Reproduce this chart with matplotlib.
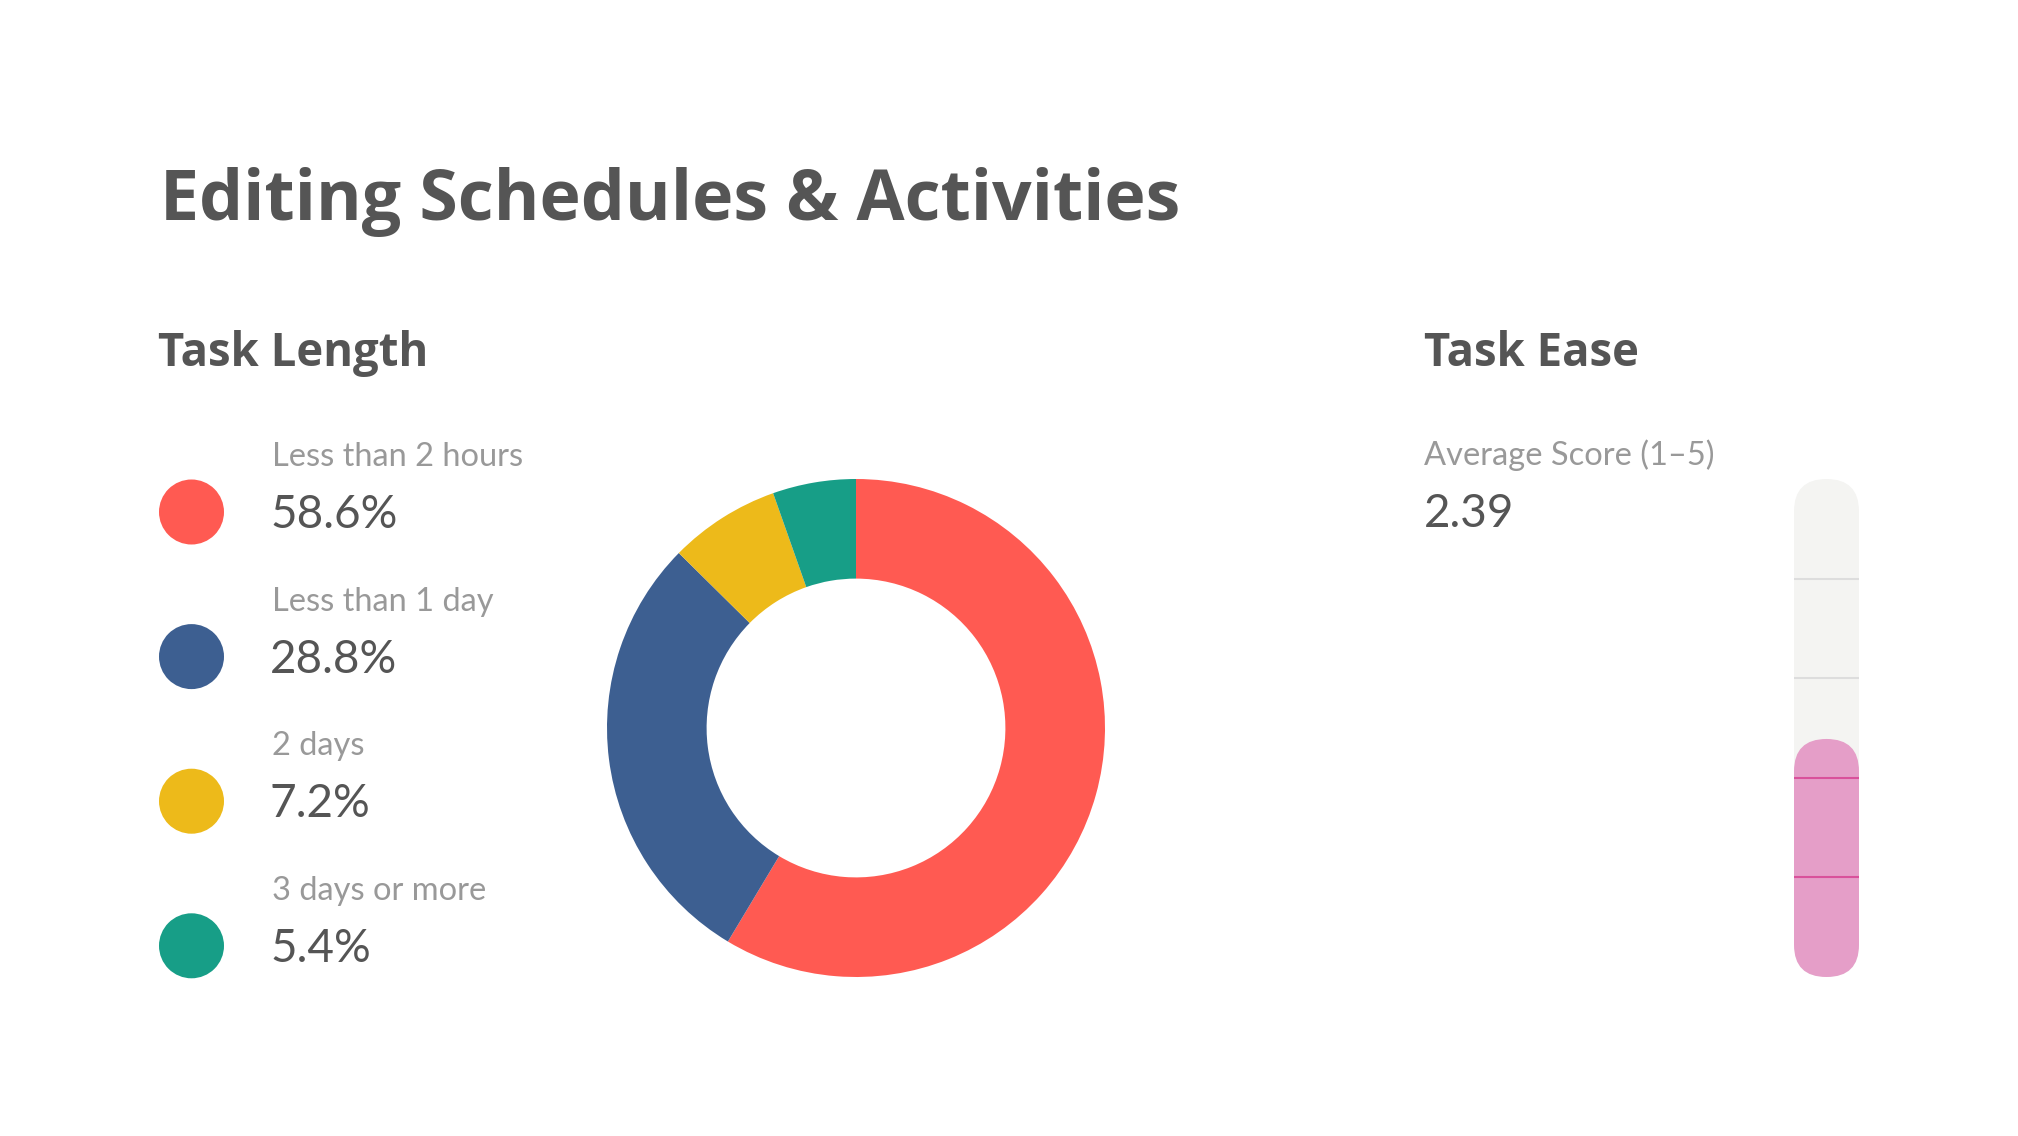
import matplotlib
matplotlib.use("Agg")
import matplotlib.pyplot as plt
from matplotlib.patches import Circle, FancyBboxPatch

# data
categories = ['Less than 2 hours', 'Less than 1 day', '2 days', '3 days or more']
shares = [58.6, 28.8, 7.2, 5.4]
slice_colors = ['#FF5A52', '#3D5F91', '#EDBA1A', '#179E87']
ease_score = 2.39
ease_max = 5
ease_ticks = [1, 2, 3, 4]

DARK = '#555555'
GREY = '#999999'
W, H = 2018, 1136
HEAD = ['Open Sans', 'Lato', 'DejaVu Sans']

plt.rcParams['font.family'] = ['Lato', 'DejaVu Sans']

fig = plt.figure(figsize=(W / 100, H / 100), dpi=100)
fig.patch.set_facecolor('white')

# full-figure axes in pixel units for the text and legend dots
ax = fig.add_axes([0, 0, 1, 1])
ax.set_xlim(0, W)
ax.set_ylim(H, 0)
ax.axis('off')

ax.text(160, 220, 'Editing Schedules & Activities', fontsize=50.2, fontweight='bold',
        family=HEAD, color=DARK, va='baseline', ha='left')
ax.text(158, 366, 'Task Length', fontsize=32.8, fontweight='bold',
        family=HEAD, color=DARK, va='baseline', ha='left')
ax.text(1424, 366, 'Task Ease', fontsize=32.8, fontweight='bold',
        family=HEAD, color=DARK, va='baseline', ha='left')

# legend column
row0, step = 512, 144.6
for i, (cat, val, col) in enumerate(zip(categories, shares, slice_colors)):
    cy = row0 + i * step
    ax.add_patch(Circle((191.5, cy), 32.5, color=col, lw=0))
    ax.text(272, cy - 46, cat, fontsize=23.5, color=GREY, va='baseline', ha='left')
    ax.text(270, cy + 16, f'{val}%', fontsize=33, color=DARK, va='baseline', ha='left')

# task ease text
ax.text(1424, 465, 'Average Score (1\u20135)', fontsize=23.5, color=GREY, va='baseline', ha='left')
ax.text(1424, 527, f'{ease_score}', fontsize=33, color=DARK, va='baseline', ha='left')

# donut
cx, cy, r = 856, 728, 249
pax = fig.add_axes([(cx - r) / W, (H - cy - r) / H, 2 * r / W, 2 * r / H])
pax.pie(shares, colors=slice_colors, startangle=90, counterclock=False,
        wedgeprops=dict(width=0.4, linewidth=0))
pax.set_xlim(-1, 1)
pax.set_ylim(-1, 1)
pax.set_aspect('equal')
pax.axis('off')

# thermometer gauge
gx0, gx1, gy0, gy1 = 1794, 1859, 479, 977
gw = 0.65
gax = fig.add_axes([gx0 / W, (H - gy1) / H, (gx1 - gx0) / W, (gy1 - gy0) / H])
gax.set_xlim(0, gw)
gax.set_ylim(0, ease_max)
gax.axis('off')
rs = gw / 2
gax.add_patch(FancyBboxPatch((0, 0), gw, ease_max,
                             boxstyle=f'round,pad=0,rounding_size={rs}',
                             mutation_aspect=1, fc='#F4F4F2', ec='none'))
gax.add_patch(FancyBboxPatch((0, 0), gw, ease_score,
                             boxstyle=f'round,pad=0,rounding_size={rs}',
                             mutation_aspect=1, fc='#E59EC8', ec='none'))
for t in ease_ticks:
    c = '#D9519B' if t < ease_score else '#DDDDDD'
    gax.plot([0, gw], [t, t], color=c, lw=1.5)

fig.savefig('out.png', dpi=100, facecolor='white')
